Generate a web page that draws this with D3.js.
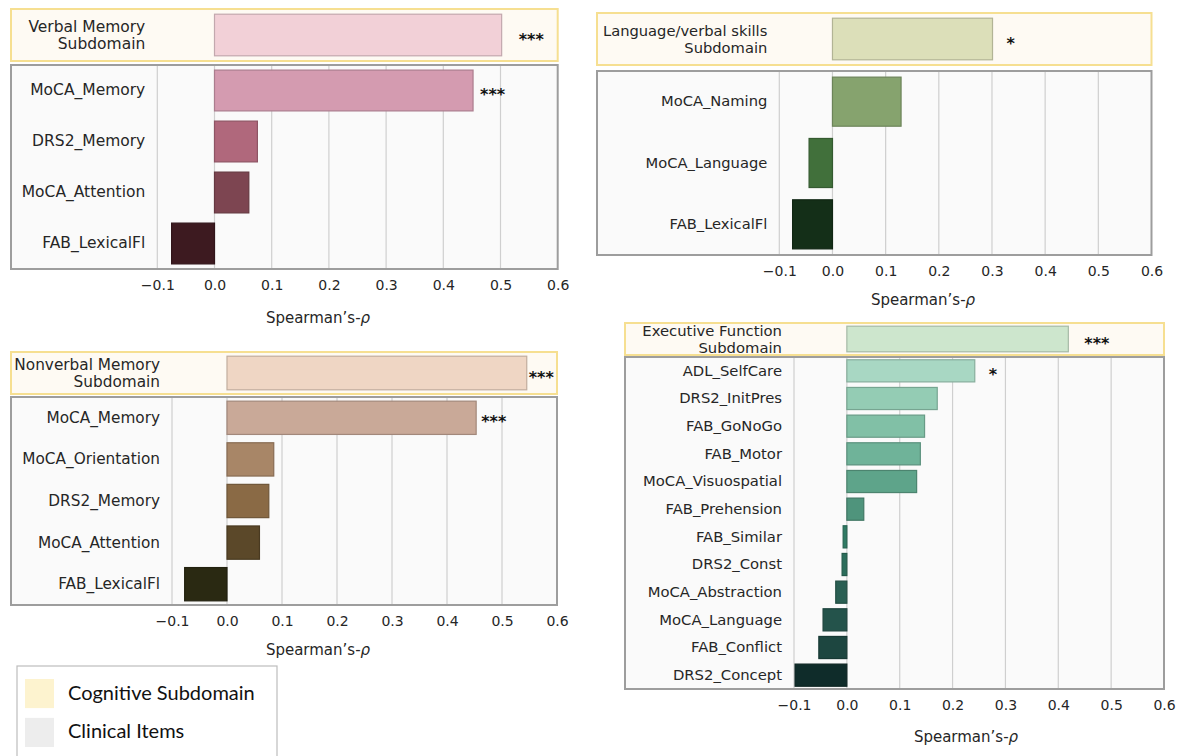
<!DOCTYPE html>
<html>
<head>
<meta charset="utf-8">
<script src="https://cdn.jsdelivr.net/npm/d3@7"></script>
<style>
  html, body { margin: 0; padding: 0; background: #ffffff; }
  svg { display: block; }
</style>
</head>
<body>
<svg id="chart" width="1185" height="756"></svg>
<script>
// ---- data -------------------------------------------------------------
const subdomainNames = ["Verbal Memory\nSubdomain", "Language/verbal skills\nSubdomain",
                        "Nonverbal Memory\nSubdomain", "Executive Function\nSubdomain"];
const subdomainRho   = [0.502, 0.301, 0.545, 0.419];
const subdomainStars = ["***", "*", "***", "***"];

const verbalItems = ["MoCA_Memory", "DRS2_Memory", "MoCA_Attention", "FAB_LexicalFl"];
const verbalRho   = [0.452, 0.075, 0.060, -0.075];
const verbalStars = ["***", "", "", ""];

const languageItems = ["MoCA_Naming", "MoCA_Language", "FAB_LexicalFl"];
const languageRho   = [0.129, -0.044, -0.075];
const languageStars = ["", "", ""];

const nonverbalItems = ["MoCA_Memory", "MoCA_Orientation", "DRS2_Memory", "MoCA_Attention", "FAB_LexicalFl"];
const nonverbalRho   = [0.453, 0.085, 0.076, 0.059, -0.077];
const nonverbalStars = ["***", "", "", "", ""];

const executiveItems = ["ADL_SelfCare", "DRS2_InitPres", "FAB_GoNoGo", "FAB_Motor", "MoCA_Visuospatial",
                        "FAB_Prehension", "FAB_Similar", "DRS2_Const", "MoCA_Abstraction",
                        "MoCA_Language", "FAB_Conflict", "DRS2_Concept"];
const executiveRho   = [0.242, 0.171, 0.147, 0.139, 0.132, 0.032, -0.007, -0.009, -0.021,
                        -0.045, -0.053, -0.098];
const executiveStars = ["*", "", "", "", "", "", "", "", "", "", "", ""];

const xTicks = [-0.1, 0.0, 0.1, 0.2, 0.3, 0.4, 0.5, 0.6];
const axisTitle = "Spearman\u2019s-";
const legendLabels = ["Cognitive Subdomain", "Clinical Items"];

// ---- palettes ---------------------------------------------------------
const subdomainColors = ["#f2d0d7", "#dcdfb9", "#efd6c4", "#cde6cd"];
const verbalColors    = ["#d49bb0", "#b0687c", "#7d4551", "#3d1a20"];
const languageColors  = ["#86a36e", "#41703b", "#142f18"];
const nonverbalColors = ["#c9a998", "#a88667", "#8a6a45", "#5b4829", "#2a2912"];
const executiveColors = ["#a8d7c3", "#94ccb4", "#81c0a6", "#6fb399", "#5ea48a", "#4f947c",
                         "#2f7b64", "#2b6e5b", "#2a5f53", "#24534b", "#1d4640", "#0f2c2a"];

// ---- layout -----------------------------------------------------------
const panels = [
  { i: 0, items: verbalItems, rho: verbalRho, stars: verbalStars, colors: verbalColors,
    x0: 157.3, x1: 557.7, boxLeft: 11, yel: [9, 61], gry: [65, 269],
    titleX: 318, titleY: 318, font: 15.5, subGap: 17, itemGap: 7 },
  { i: 1, items: languageItems, rho: languageRho, stars: languageStars, colors: languageColors,
    x0: 779.3, x1: 1151.5, boxLeft: 597, yel: [13, 65], gry: [71, 255],
    titleX: 923, titleY: 300, font: 14.7, subGap: 14, itemGap: 7 },
  { i: 2, items: nonverbalItems, rho: nonverbalRho, stars: nonverbalStars, colors: nonverbalColors,
    x0: 172, x1: 557, boxLeft: 11, yel: [352, 394], gry: [397, 605],
    titleX: 318, titleY: 650, font: 15.3, subGap: 2, itemGap: 5 },
  { i: 3, items: executiveItems, rho: executiveRho, stars: executiveStars, colors: executiveColors,
    x0: 794, x1: 1164, boxLeft: 625, yel: [323, 355], gry: [357, 689],
    titleX: 966, titleY: 737, font: 14.8, subGap: 16, itemGap: 14 }
];

const FONT = "'DejaVu Sans', sans-serif";
const TEXT = "#262626";
const svg = d3.select("#chart");

function drawBars(g, y, names, values, colors, stars, x, gap) {
  g.selectAll("rect.bar")
    .data(names)
    .join("rect")
    .attr("class", "bar")
    .attr("x", (d, k) => Math.min(x(0), x(values[k])))
    .attr("width", (d, k) => Math.abs(x(values[k]) - x(0)))
    .attr("y", d => y(d))
    .attr("height", y.bandwidth())
    .attr("fill", (d, k) => colors[k])
    .attr("stroke", (d, k) => d3.color(colors[k]).darker(0.6))
    .attr("stroke-width", 1.2);

  g.selectAll("text.star")
    .data(names.filter((d, k) => stars[k]))
    .join("text")
    .attr("class", "star")
    .attr("x", d => x(values[names.indexOf(d)]) + gap)
    .attr("y", d => y(d) + y.bandwidth() / 2 + 0.6 * 16)
    .attr("font-family", FONT)
    .attr("font-size", 16)
    .attr("font-weight", "bold")
    .attr("fill", "#111")
    .text(d => stars[names.indexOf(d)]);
}

function drawGrid(g, x, yr) {
  g.selectAll("line.grid")
    .data(xTicks.slice(0, -1))
    .join("line")
    .attr("class", "grid")
    .attr("x1", d => x(d)).attr("x2", d => x(d))
    .attr("y1", yr[0]).attr("y2", yr[1])
    .attr("stroke", "#cfcfcf")
    .attr("stroke-width", 1.2);
}

function drawLabels(g, y, x, fs) {
  const ax = g.append("g")
    .attr("transform", `translate(${x(-0.1)},0)`)
    .call(d3.axisLeft(y).tickSize(0).tickPadding(12));
  ax.select(".domain").remove();
  ax.selectAll("text")
    .attr("font-family", FONT)
    .attr("font-size", fs)
    .attr("fill", TEXT)
    .each(function (d) {
      const lines = String(d).split("\n");
      if (lines.length < 2) return;
      const t = d3.select(this).text(null).attr("dy", null);
      const lh = 17;
      lines.forEach((ln, k) => {
        t.append("tspan")
          .attr("x", -12)
          .attr("dy", k === 0 ? (-(lines.length - 1) * lh / 2 + 0.35 * fs) + "px" : lh + "px")
          .text(ln);
      });
    });
}

panels.forEach(p => {
  const g = svg.append("g");
  const x = d3.scaleLinear().domain([xTicks[0], xTicks[xTicks.length - 1]]).range([p.x0, p.x1]);

  // box backgrounds
  g.append("rect")
    .attr("x", p.boxLeft).attr("y", p.yel[0])
    .attr("width", p.x1 - p.boxLeft).attr("height", p.yel[1] - p.yel[0])
    .attr("fill", "#fefaf3");
  g.append("rect")
    .attr("x", p.boxLeft).attr("y", p.gry[0])
    .attr("width", p.x1 - p.boxLeft).attr("height", p.gry[1] - p.gry[0])
    .attr("fill", "#fafafa");

  drawGrid(g, x, p.yel);
  drawGrid(g, x, p.gry);

  // subdomain bar (top box)
  const ySub = d3.scaleBand().domain([subdomainNames[p.i]]).range(p.yel)
    .paddingInner(0.2).paddingOuter(0.1);
  drawBars(g, ySub, [subdomainNames[p.i]], [subdomainRho[p.i]], [subdomainColors[p.i]],
           [subdomainStars[p.i]], x, p.subGap);

  // clinical item bars (bottom box)
  const yItems = d3.scaleBand().domain(p.items).range(p.gry)
    .paddingInner(0.2).paddingOuter(0.1);
  const gi = g.append("g");
  drawBars(gi, yItems, p.items, p.rho, p.colors, p.stars, x, p.itemGap);

  // box outlines
  g.append("rect")
    .attr("x", p.boxLeft).attr("y", p.yel[0])
    .attr("width", p.x1 - p.boxLeft).attr("height", p.yel[1] - p.yel[0])
    .attr("fill", "none").attr("stroke", "#f6df91").attr("stroke-width", 2);
  g.append("rect")
    .attr("x", p.boxLeft).attr("y", p.gry[0])
    .attr("width", p.x1 - p.boxLeft).attr("height", p.gry[1] - p.gry[0])
    .attr("fill", "none").attr("stroke", "#9d9d9d").attr("stroke-width", 2);

  // category labels
  drawLabels(g, ySub, x, p.font);
  drawLabels(g, yItems, x, p.font);

  // x axis
  const xa = g.append("g")
    .attr("transform", `translate(0,${p.gry[1]})`)
    .call(d3.axisBottom(x).tickValues(xTicks).tickFormat(d3.format(".1f")).tickSize(0).tickPadding(11));
  xa.select(".domain").remove();
  xa.selectAll("text")
    .attr("font-family", FONT)
    .attr("font-size", 14)
    .attr("fill", TEXT);

  // axis title
  const t = g.append("text")
    .attr("x", p.titleX).attr("y", p.titleY + 5)
    .attr("text-anchor", "middle")
    .attr("font-family", FONT)
    .attr("font-size", 15)
    .attr("fill", TEXT)
    .text(axisTitle);
  t.append("tspan").attr("font-style", "italic").text("\u03C1");
});

// ---- legend -----------------------------------------------------------
const lg = svg.append("g");
lg.append("rect")
  .attr("x", 17).attr("y", 666).attr("width", 260).attr("height", 110)
  .attr("fill", "#ffffff").attr("stroke", "#bdbdbd").attr("stroke-width", 1.2);
const legendFill = ["#fdf3cf", "#ededed"];
const ly = d3.scaleBand().domain(legendLabels).range([677, 747]).paddingInner(0.2);
lg.selectAll("rect.sw")
  .data(legendLabels)
  .join("rect")
  .attr("class", "sw")
  .attr("x", 25).attr("y", d => ly(d) + 2)
  .attr("width", 29).attr("height", ly.bandwidth() - 2)
  .attr("fill", (d, k) => legendFill[k]);
lg.selectAll("text.lt")
  .data(legendLabels)
  .join("text")
  .attr("class", "lt")
  .attr("x", 68).attr("y", d => ly(d) + ly.bandwidth() / 2 + 7)
  .attr("font-family", "Lato, 'Open Sans', sans-serif")
  .attr("font-size", 20)
  .attr("fill", "#111")
  .text(d => d);
</script>
</body>
</html>
